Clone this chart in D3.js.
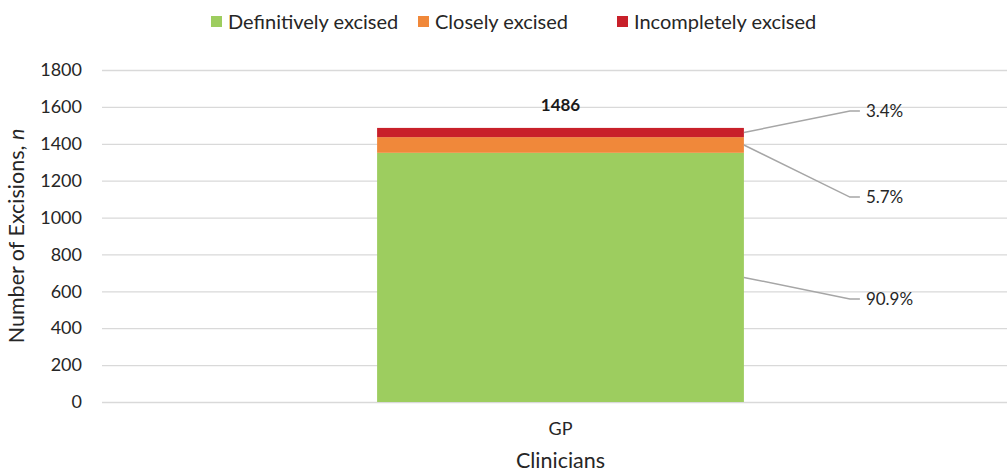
<!DOCTYPE html>
<html>
<head>
<meta charset="utf-8">
<script src="https://cdn.jsdelivr.net/npm/d3@7"></script>
<style>
  html, body { margin: 0; padding: 0; background: #fff; }
  svg { display: block; font-family: Lato, "Open Sans", sans-serif; }
</style>
</head>
<body>
<svg id="chart" width="1007" height="474"></svg>
<script>
// ---- data ----
const categories = ["GP"];
const seriesNames = ["Definitively excised", "Closely excised", "Incompletely excised"];
const definitivelyExcised = [1351];
const closelyExcised = [85];
const incompletelyExcised = [50];
const percentLabels = ["90.9%", "5.7%", "3.4%"];
const totalLabels = ["1486"];
const yTicks = [0, 200, 400, 600, 800, 1000, 1200, 1400, 1600, 1800];
// value (in axis units) where each percent label sits
const labelAnchorValues = [558, 1111, 1578];

const colors = ["#9dcd5f", "#f0883a", "#c8202a"];

// ---- layout ----
const svg = d3.select("#chart");
const margin = { left: 102, right: -12, top: 70, bottom: 72 };
const W = 1007, H = 474;
const plotL = margin.left, plotR = W - margin.right;
const plotT = margin.top, plotB = H - margin.bottom;
const FONT = "Lato, 'Open Sans', sans-serif";

const x = d3.scaleBand().domain(categories).range([plotL, plotR])
  .paddingInner(0.6).paddingOuter(0.3);
const y = d3.scaleLinear().domain([0, 1800]).range([plotB, plotT]);

// gridlines
svg.append("g").selectAll("line").data(yTicks).join("line")
  .attr("x1", plotL).attr("x2", plotR)
  .attr("y1", d => y(d) + 0.5).attr("y2", d => y(d) + 0.5)
  .attr("stroke", "#d9d9d9").attr("stroke-width", 1.3);

// y axis labels
const yAxis = d3.axisLeft(y).tickValues(yTicks).tickFormat(d3.format("d")).tickSize(0).tickPadding(0);
const gy = svg.append("g").attr("transform", `translate(${plotL - 20},0)`).call(yAxis);
gy.select(".domain").remove();
gy.selectAll("text").attr("font-size", 18).attr("fill", "#262626").attr("font-family", FONT);

// x axis labels
const xAxis = d3.axisBottom(x).tickSize(0).tickPadding(0);
const gx = svg.append("g").attr("transform", `translate(0,${plotB + 20})`).call(xAxis);
gx.select(".domain").remove();
gx.selectAll("text").attr("font-size", 18).attr("fill", "#262626").attr("font-family", FONT);

// stacked data
const rows = categories.map((c, i) => ({
  cat: c,
  "Definitively excised": definitivelyExcised[i],
  "Closely excised": closelyExcised[i],
  "Incompletely excised": incompletelyExcised[i]
}));
const stack = d3.stack().keys(seriesNames)(rows);

svg.append("g").selectAll("g").data(stack).join("g")
  .attr("fill", (d, i) => colors[i])
  .selectAll("rect").data(d => d).join("rect")
  .attr("x", d => x(d.data.cat))
  .attr("width", x.bandwidth())
  .attr("y", d => y(d[1]))
  .attr("height", d => y(d[0]) - y(d[1]));

// total label
svg.append("g").selectAll("text").data(categories).join("text")
  .attr("x", d => x(d) + x.bandwidth() / 2)
  .attr("y", (d, i) => y(1486) - 17)
  .attr("text-anchor", "middle")
  .attr("font-size", 17).attr("font-weight", "bold").attr("fill", "#1a1a1a")
  .text((d, i) => totalLabels[i]);

// leader lines + percent labels
const barRight = x(categories[0]) + x.bandwidth();
const elbowX = barRight + 106;
const endX = elbowX + 10;
stack.forEach((s, i) => {
  const seg = s[0];
  const midY = y((seg[0] + seg[1]) / 2);
  const ly = y(labelAnchorValues[i]);
  svg.append("polyline")
    .attr("points", `${barRight},${midY} ${elbowX},${ly} ${endX},${ly}`)
    .attr("fill", "none").attr("stroke", "#a6a6a6").attr("stroke-width", 1.5);
  svg.append("text")
    .attr("x", endX + 6).attr("y", ly).attr("dy", "0.35em")
    .attr("font-size", 17).attr("fill", "#262626")
    .text(percentLabels[i]);
});

// axis titles
svg.append("text")
  .attr("transform", `translate(24,${(plotT + plotB) / 2}) rotate(-90)`)
  .attr("text-anchor", "middle").attr("font-size", 21.5).attr("fill", "#262626")
  .call(t => {
    t.append("tspan").text("Number of Excisions, ");
    t.append("tspan").attr("font-style", "italic").text("n");
  });
svg.append("text")
  .attr("x", x(categories[0]) + x.bandwidth() / 2).attr("y", 468)
  .attr("text-anchor", "middle").attr("font-size", 21.5).attr("fill", "#262626")
  .text("Clinicians");

// legend
const legendX = [211, 418, 617];
const lg = svg.append("g");
seriesNames.forEach((n, i) => {
  lg.append("rect").attr("x", legendX[i]).attr("y", 16).attr("width", 11).attr("height", 11)
    .attr("fill", colors[i]);
  lg.append("text").attr("x", legendX[i] + 17).attr("y", 22).attr("dy", "0.35em")
    .attr("font-size", 20).attr("fill", "#262626").text(n);
});
</script>
</body>
</html>
